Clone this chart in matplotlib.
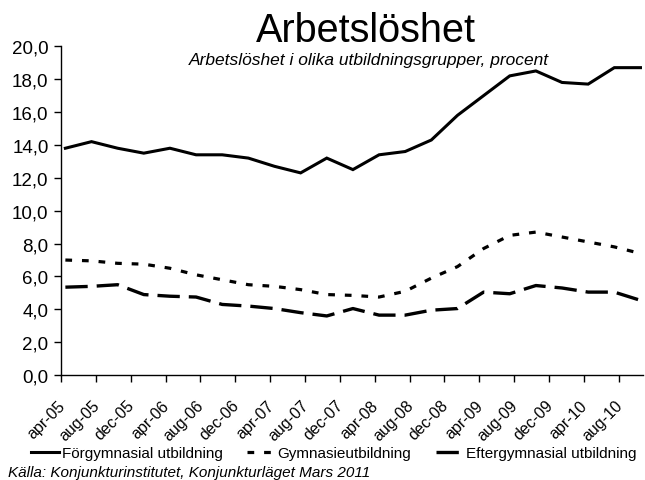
import numpy as np
import matplotlib
matplotlib.use("Agg")
import matplotlib.pyplot as plt
import matplotlib.transforms as mtransforms

plt.rcParams['font.family'] = ['Liberation Sans', 'DejaVu Sans']

# Quarterly data, apr-05 .. quarter ending 2010
tick_labels = ["apr-05", "aug-05", "dec-05", "apr-06", "aug-06", "dec-06",
               "apr-07", "aug-07", "dec-07", "apr-08", "aug-08", "dec-08",
               "apr-09", "aug-09", "dec-09", "apr-10", "aug-10"]

forgymnasial = [13.8, 14.2, 13.8, 13.5, 13.8, 13.4, 13.4, 13.2, 12.7, 12.3, 13.2, 12.5,
                13.4, 13.6, 14.3, 15.8, 17.0, 18.2, 18.5, 17.8, 17.7, 18.7, 18.7]
gymnasie = [7.0, 6.95, 6.8, 6.75, 6.5, 6.1, 5.8, 5.5, 5.4, 5.2, 4.9, 4.85,
            4.75, 5.1, 5.9, 6.6, 7.7, 8.5, 8.7, 8.4, 8.1, 7.8, 7.4]
eftergymnasial = [5.35, 5.4, 5.5, 4.9, 4.8, 4.75, 4.3, 4.2, 4.05, 3.8, 3.6, 4.05,
                  3.65, 3.65, 3.95, 4.05, 5.05, 4.95, 5.45, 5.3, 5.05, 5.05, 4.55]

# x in months since apr-05, one point per quarter
months = 0.5 + 3 * np.arange(len(forgymnasial))
tick_pos = 4 * np.arange(len(tick_labels))

fig = plt.figure(figsize=(6.45, 4.81), dpi=100)
ax = fig.add_axes([0.0946, 0.218, 0.9024, 0.6837])

ax.plot(months, forgymnasial, color="black", lw=2.2, solid_joinstyle="miter",
        label="Förgymnasial utbildning")
ax.plot(months, gymnasie, color="black", lw=2.3, linestyle=(0, (2.1, 3.1)),
        dash_capstyle="butt", label="Gymnasieutbildning")
ax.plot(months, eftergymnasial, color="black", lw=2.4, linestyle=(0, (6.7, 2.7)),
        dash_capstyle="butt", label="Eftergymnasial utbildning")

ax.set_xlim(0, 66.8)
ax.set_ylim(0, 20)
ax.set_yticks(np.arange(0, 21, 2))
ax.set_yticklabels([f"{v:.1f}".replace(".", ",") for v in np.arange(0, 21, 2)],
                   fontsize=13.5)
ax.set_xticks(tick_pos)
ax.set_xticklabels(tick_labels, rotation=45, ha="right", va="top",
                   rotation_mode="anchor", fontsize=11.5)
ax.tick_params(axis="both", direction="out", length=5, width=1, color="black")
ax.tick_params(axis="y", pad=4)
ax.tick_params(axis="x", pad=11)
shift = mtransforms.ScaledTranslation(-4 / 100, 0, fig.dpi_scale_trans)
for lbl in ax.get_xticklabels():
    lbl.set_transform(lbl.get_transform() + shift)
for s in ["top", "right"]:
    ax.spines[s].set_visible(False)
for s in ["left", "bottom"]:
    ax.spines[s].set_linewidth(1)

fig.text(0.567, 0.913, "Arbetslöshet", fontsize=28.5, ha="center", va="baseline")
fig.text(0.572, 0.865, "Arbetslöshet i olika utbildningsgrupper, procent",
         fontsize=12.5, style="italic", ha="center", va="baseline")

fig.legend(loc="center", bbox_to_anchor=(0.518, 0.056), ncol=3, frameon=False,
           fontsize=11, handlelength=1.8, handletextpad=0.2, columnspacing=1.6,
           borderpad=0, borderaxespad=0)

fig.text(0.012, 0.009, "Källa: Konjunkturinstitutet, Konjunkturläget Mars 2011",
         fontsize=11, style="italic", ha="left", va="baseline")

fig.savefig("out.png", dpi=100)
